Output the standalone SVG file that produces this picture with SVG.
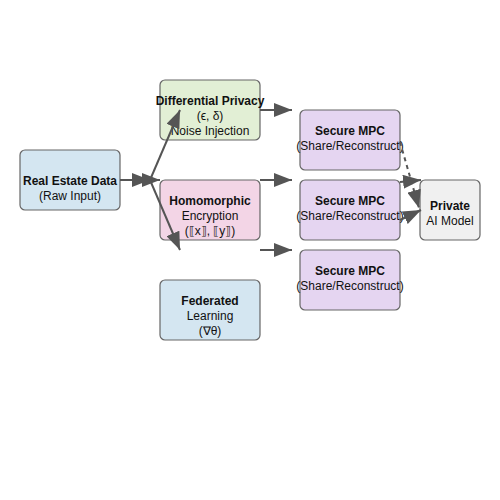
<svg xmlns="http://www.w3.org/2000/svg" width="500" height="500" viewBox="0 0 500 500">
<style>
.box{stroke:#666;stroke-width:1.2}
.t{font-family:"Liberation Sans",Arial,sans-serif;font-size:12px;fill:#111;text-anchor:middle}
.b{font-weight:bold}
.c{stroke:#555;stroke-width:2;fill:none}
.d{stroke-dasharray:4,4}
</style>
<defs>
<marker id="ah" markerUnits="userSpaceOnUse" markerWidth="20" markerHeight="14" refX="18" refY="7" orient="auto">
<path d="M0,0 L18,7 L0,14 Z" fill="#555"/>
</marker>
</defs>
<rect width="500" height="500" fill="#fff"/>
<g id="real-estate">
<rect class="box" x="20" y="150" width="100" height="60" rx="5" fill="#d4e6f1"/>
<text class="t b" x="70" y="185">Real Estate Data</text>
<text class="t" x="70" y="200">(Raw Input)</text>
</g>
<g id="dp">
<rect class="box" x="160" y="80" width="100" height="60" rx="5" fill="#e2efd5"/>
<text class="t b" x="210" y="105">Differential Privacy</text>
<text class="t" x="210" y="120">(ϵ, δ)</text>
<text class="t" x="210" y="135">Noise Injection</text>
</g>
<g id="he">
<rect class="box" x="160" y="180" width="100" height="60" rx="5" fill="#f3d5e6"/>
<text class="t b" x="210" y="205">Homomorphic</text>
<text class="t" x="210" y="220">Encryption</text>
<text class="t" x="210" y="235">(⟦x⟧, ⟦y⟧)</text>
</g>
<g id="fl">
<rect class="box" x="160" y="280" width="100" height="60" rx="5" fill="#d4e6f1"/>
<text class="t b" x="210" y="305">Federated</text>
<text class="t" x="210" y="320">Learning</text>
<text class="t" x="210" y="335">(∇θ)</text>
</g>
<g id="mpc1">
<rect class="box" x="300" y="110" width="100" height="60" rx="5" fill="#e5d5f1"/>
<text class="t b" x="350" y="135">Secure MPC</text>
<text class="t" x="350" y="150">(Share/Reconstruct)</text>
</g>
<g id="mpc2">
<rect class="box" x="300" y="180" width="100" height="60" rx="5" fill="#e5d5f1"/>
<text class="t b" x="350" y="205">Secure MPC</text>
<text class="t" x="350" y="220">(Share/Reconstruct)</text>
</g>
<g id="mpc3">
<rect class="box" x="300" y="250" width="100" height="60" rx="5" fill="#e5d5f1"/>
<text class="t b" x="350" y="275">Secure MPC</text>
<text class="t" x="350" y="290">(Share/Reconstruct)</text>
</g>
<g id="model">
<rect class="box" x="420" y="180" width="60" height="60" rx="5" fill="#f0f0f0"/>
<text class="t b" x="450" y="210">Private</text>
<text class="t" x="450" y="225">AI Model</text>
</g>
<g id="connectors">
<line class="c" x1="120" y1="180" x2="150" y2="180" marker-end="url(#ah)"/>
<line class="c" x1="120" y1="180" x2="160" y2="180" marker-end="url(#ah)"/>
<line class="c" x1="150" y1="180" x2="180" y2="110" marker-end="url(#ah)"/>
<line class="c" x1="150" y1="180" x2="180" y2="250" marker-end="url(#ah)"/>
<line class="c" x1="260" y1="110" x2="292" y2="110" marker-end="url(#ah)"/>
<line class="c" x1="260" y1="180" x2="292" y2="180" marker-end="url(#ah)"/>
<line class="c" x1="260" y1="250" x2="292" y2="250" marker-end="url(#ah)"/>
<line class="c d" x1="400" y1="142" x2="419" y2="208" marker-end="url(#ah)"/>
<line class="c" x1="400" y1="182" x2="421" y2="180" marker-end="url(#ah)"/>
<line class="c" x1="400" y1="220" x2="421" y2="210" marker-end="url(#ah)"/>
</g>
</svg>
